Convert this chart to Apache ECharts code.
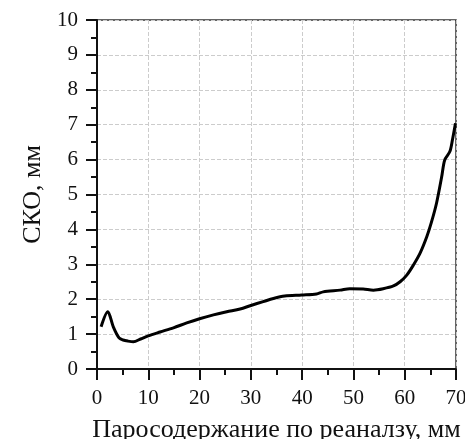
<!DOCTYPE html>
<html>
<head>
<meta charset="utf-8">
<script src="https://cdn.jsdelivr.net/npm/echarts@6/dist/echarts.min.js"></script>
<style>
    html, body { margin: 0; padding: 0; background: #fff; }
    #chart { width: 465px; height: 439px; }
</style>
</head>
<body>
<div id="chart"></div>
<script>
// values
var steamContent = [0.8, 2.1, 3.2, 4.3, 5.1, 6.0, 7.1, 8.5, 10.0, 12.3, 14.9, 17.5, 20.0, 22.7, 25.3, 27.9, 30.0, 32.4, 34.4, 36.6, 39.9, 42.8, 44.1, 47.4, 49.3, 51.9, 53.9, 55.8, 57.8, 59.1, 60.4, 61.7, 63.0, 64.3, 65.2, 66.2, 67.2, 67.8, 68.8, 69.3, 69.9];
var rmsError = [1.21, 1.64, 1.2, 0.89, 0.83, 0.8, 0.78, 0.86, 0.95, 1.06, 1.18, 1.32, 1.44, 1.55, 1.64, 1.72, 1.82, 1.93, 2.02, 2.09, 2.12, 2.15, 2.21, 2.26, 2.3, 2.29, 2.26, 2.3, 2.38, 2.5, 2.69, 2.98, 3.32, 3.79, 4.2, 4.75, 5.5, 5.99, 6.23, 6.56, 7.04];

var xTitle = "Паросодержание по реаналзу, мм";
var yTitle = "СКО, мм";

var points = [];
for (var i = 0; i < steamContent.length; i++) {
    points.push([steamContent[i], rmsError[i]]);
}

var font = "'Liberation Serif', 'DejaVu Serif', serif";

var chart = echarts.init(document.getElementById("chart"));
chart.setOption({
    animation: false,
    grid: {
        left: 97,
        right: 9,
        top: 20,
        bottom: 70,
        outerBoundsMode: "none",
        containLabel: false,
        show: true,
        borderColor: "#333",
        borderWidth: 1.5
    },
    xAxis: {
        type: "value",
        min: 0,
        max: 70,
        interval: 10,
        name: xTitle,
        nameLocation: "middle",
        nameGap: 48,
        nameTextStyle: { fontFamily: font, fontSize: 26, color: "#111" },
        axisLine: { lineStyle: { color: "#111", width: 2 } },
        axisTick: { length: 11, lineStyle: { color: "#111", width: 2 } },
        minorTick: { show: true, splitNumber: 2, length: 6, lineStyle: { color: "#111", width: 2 } },
        axisLabel: { fontFamily: font, fontSize: 21, color: "#111", margin: 19 },
        splitLine: { show: true, lineStyle: { color: "#ccc", type: "dashed", width: 1 } }
    },
    yAxis: {
        type: "value",
        min: 0,
        max: 10,
        interval: 1,
        name: yTitle,
        nameLocation: "middle",
        nameGap: 39,
        nameTextStyle: { fontFamily: font, fontSize: 26, color: "#111" },
        axisLine: { show: true, lineStyle: { color: "#111", width: 2 } },
        axisTick: { show: true, length: 11, lineStyle: { color: "#111", width: 2 } },
        minorTick: { show: true, splitNumber: 2, length: 6, lineStyle: { color: "#111", width: 2 } },
        axisLabel: { fontFamily: font, fontSize: 21, color: "#111", margin: 19 },
        splitLine: { show: true, lineStyle: { color: "#ccc", type: "dashed", width: 1 } }
    },
    series: [{
        type: "line",
        data: points,
        showSymbol: false,
        smooth: 0.3,
        lineStyle: { color: "#000", width: 3 }
    }]
});
</script>
</body>
</html>
